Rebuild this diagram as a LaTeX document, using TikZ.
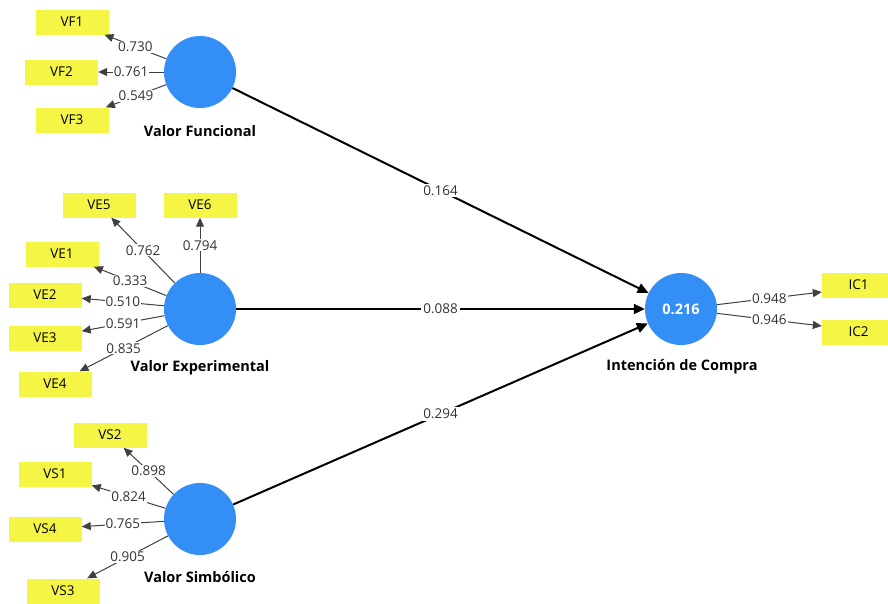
\documentclass[tikz,border=0pt]{standalone}
\usepackage{fontspec}
\setmainfont{Open Sans}
\usetikzlibrary{arrows.meta,calc}
\definecolor{lvblue}{RGB}{51,142,245}
\definecolor{indyellow}{RGB}{245,245,70}
\begin{document}
\begin{tikzpicture}[x=1pt,y=-1pt,
  lv/.style={circle,fill=lvblue,minimum size=72pt,inner sep=0pt},
  ind/.style={rectangle,fill=indyellow,minimum width=73pt,minimum height=25pt,inner sep=0pt,font=\fontsize{13.5}{15}\selectfont},
  lvname/.style={font=\bfseries\fontsize{14.5}{16}\selectfont},
  load/.style={draw=black!75,line width=1pt,-{Triangle[length=9pt,width=8pt]}},
  strpath/.style={draw=black,line width=2pt,-{Triangle[length=11pt,width=10pt]}},
  lab/.style={fill=white,inner sep=1pt,font=\fontsize{13.5}{15}\selectfont,text=black!80}
]
\useasboundingbox (0,0) rectangle (888,603);
\clip (0,0) rectangle (888,603);
\fill[white] (0,0) rectangle (888,603);

% latent variables
\node[lv] (VF) at (200,72) {};
\node[lv] (VE) at (200,309) {};
\node[lv] (VS) at (200,519) {};
\node[lv,text=white,font=\bfseries\fontsize{14.5}{16}\selectfont] (IC) at (681,309) {0.216};

\node[lvname] (VFn) at (200,131) {Valor Funcional};
\node[lvname] (VEn) at (200,368) {Valor Experimental};
\node[lvname] (VSn) at (200,577) {Valor Simbólico};
\node[lvname] (ICn) at (682,367) {Intención de Compra};

% indicators
\node[ind] (VF1) at (72,22) {VF1};
\node[ind] (VF2) at (61.5,72) {VF2};
\node[ind] (VF3) at (72,120) {VF3};

\node[ind] (VE5) at (99,205) {VE5};
\node[ind] (VE6) at (200,205) {VE6};
\node[ind] (VE1) at (62,254) {VE1};
\node[ind] (VE2) at (45,295) {VE2};
\node[ind] (VE3) at (45,338) {VE3};
\node[ind] (VE4) at (55,384) {VE4};

\node[ind] (VS2) at (110,435) {VS2};
\node[ind] (VS1) at (55,474) {VS1};
\node[ind] (VS4) at (45,529) {VS4};
\node[ind] (VS3) at (63,591) {VS3};

\node[ind] (IC1) at (858.5,285) {IC1};
\node[ind] (IC2) at (858.5,332) {IC2};

\coordinate (IC1t) at ($(IC1.west)+(0,7)$);
\coordinate (IC2t) at ($(IC2.west)+(0,-6)$);

% loadings
\draw[load] (VF) -- node[lab]{0.730} (VF1);
\draw[load] (VF) -- node[lab]{0.761} (VF2);
\draw[load] (VF) -- node[lab]{0.549} (VF3);

\draw[load] (VE) -- node[lab]{0.762} (VE5);
\draw[load] (VE) -- node[lab]{0.794} (VE6);
\draw[load] (VE) -- node[lab]{0.333} (VE1);
\draw[load] (VE) -- node[lab]{0.510} (VE2);
\draw[load] (VE) -- node[lab]{0.591} (VE3);
\draw[load] (VE) -- node[lab]{0.835} (VE4);

\draw[load] (VS) -- node[lab]{0.898} (VS2);
\draw[load] (VS) -- node[lab]{0.824} (VS1);
\draw[load] (VS) -- node[lab]{0.765} (VS4);
\draw[load] (VS) -- node[lab]{0.905} (VS3);

\draw[load] (IC) -- node[lab]{0.948} (IC1t);
\draw[load] (IC) -- node[lab]{0.946} (IC2t);

% structural paths
\draw[strpath] (VF) -- node[lab,inner sep=2pt]{0.164} (IC);
\draw[strpath] (VE) -- node[lab,inner sep=2pt]{0.088} (IC);
\draw[strpath] (VS) -- node[lab,inner sep=2pt]{0.294} (IC);
\end{tikzpicture}
\end{document}
